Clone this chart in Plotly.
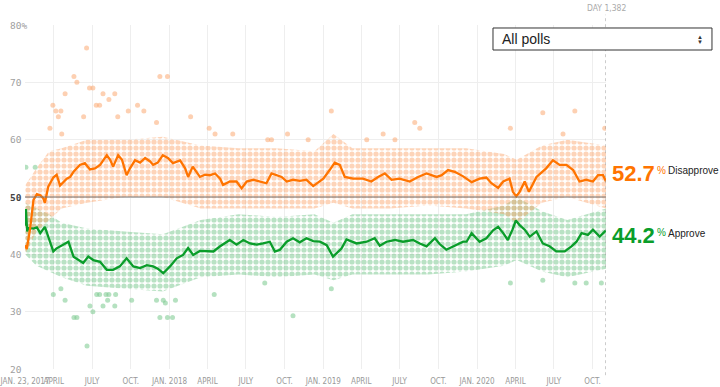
import pandas as pd
import plotly.graph_objects as go

# ---------------- data (day number since Jan 20, 2017) ----------------
disapprove_days = [3, 7, 15, 23, 31, 39, 46, 50, 58, 70, 78, 86, 102, 110, 118, 133, 145, 157, 169, 181,
                   197, 205, 212, 224, 233, 244, 252, 264, 276, 288, 300, 307, 318, 330, 342, 354, 371, 383,
                   390, 401, 418, 430, 442, 454, 466, 473, 489, 505, 517, 529, 545, 560, 576, 588, 600, 612,
                   624, 639, 655, 671, 687, 698, 711, 726, 738, 750, 762, 782, 805, 825, 841, 857, 873, 892,
                   916, 936, 956, 980, 992, 1007, 1023, 1043, 1063, 1082, 1098, 1110, 1126, 1138, 1153, 1161,
                   1169, 1177, 1189, 1199, 1217, 1240, 1256, 1272, 1288, 1304, 1319, 1335, 1351, 1363, 1375, 1382]
disapprove_vals = [41.6, 40.9, 44.5, 49.5, 50.5, 50.3, 49.8, 49.0, 51.8, 53.4, 53.9, 52.0, 53.2, 53.5, 54.4,
                   55.6, 55.9, 54.8, 55.0, 55.6, 57.3, 56.5, 55.3, 57.3, 56.5, 53.8, 55.0, 56.4, 56.0, 56.8,
                   56.2, 55.6, 56.0, 57.3, 56.8, 55.9, 56.4, 55.0, 53.5, 55.3, 53.5, 53.9, 53.8, 54.1, 53.2,
                   52.1, 52.7, 52.7, 51.5, 52.7, 53.0, 52.7, 52.4, 54.1, 53.8, 53.5, 52.7, 53.0, 52.8, 53.0,
                   51.9, 52.5, 53.2, 54.7, 56.0, 55.6, 53.5, 53.2, 53.2, 52.7, 53.5, 54.1, 53.0, 53.2, 52.7,
                   53.5, 54.1, 53.5, 53.8, 54.7, 54.4, 53.6, 52.6, 53.2, 53.4, 52.4, 51.6, 52.7, 53.2, 50.9,
                   50.1, 50.9, 52.7, 50.9, 53.5, 55.0, 56.4, 55.6, 55.6, 54.7, 52.7, 53.0, 52.7, 53.8, 53.8, 52.7]

approve_days = [3, 5, 8, 11, 23, 31, 39, 50, 58, 70, 77, 86, 98, 106, 118, 129, 141, 153, 165, 181, 197,
                212, 228, 244, 260, 276, 292, 307, 318, 331, 347, 363, 378, 390, 402, 418, 432, 450, 466,
                489, 505, 521, 537, 553, 568, 584, 596, 608, 624, 639, 655, 671, 687, 703, 719, 734, 754,
                766, 790, 814, 833, 845, 861, 881, 900, 924, 940, 956, 976, 987, 1003, 1011, 1027, 1043,
                1051, 1063, 1082, 1098, 1114, 1126, 1138, 1149, 1160, 1168, 1177, 1189, 1201, 1217, 1232,
                1248, 1264, 1284, 1300, 1312, 1324, 1339, 1351, 1367, 1382]
approve_vals = [45.0, 47.9, 44.0, 44.6, 44.5, 44.7, 43.7, 44.8, 43.1, 40.5, 41.0, 41.4, 41.8, 42.2, 39.6,
                39.0, 38.5, 39.6, 39.0, 38.7, 37.3, 37.3, 37.9, 39.3, 37.9, 37.6, 38.1, 37.9, 37.5, 36.7,
                37.9, 39.3, 39.9, 41.1, 39.9, 40.6, 40.5, 40.5, 41.4, 42.5, 41.7, 42.5, 41.9, 41.7, 41.9,
                42.2, 40.5, 40.8, 42.2, 42.8, 42.1, 42.8, 42.3, 42.2, 41.6, 39.6, 41.0, 42.6, 41.9, 42.2,
                42.8, 41.5, 42.2, 42.5, 42.2, 42.5, 41.9, 41.4, 42.8, 41.8, 40.8, 41.1, 41.7, 42.2, 42.2,
                43.7, 42.2, 42.8, 44.2, 44.8, 43.7, 42.5, 44.3, 45.9, 45.1, 44.3, 43.1, 44.0, 41.9, 41.4,
                40.5, 40.5, 41.4, 42.2, 43.7, 43.4, 44.3, 43.1, 44.2]

# spread of the bulk of individual polls
band_days = [3, 30, 60, 90, 150, 240, 330, 420, 510, 600, 690, 735, 780, 870, 960, 1050, 1140, 1170,
             1230, 1290, 1382]
disapprove_poll_hi = [52, 55, 58, 58.5, 60, 60, 60.5, 59, 58.5, 58.5, 58, 61, 58.5, 58.5, 58.5, 58.5,
                      57.5, 56.5, 59, 60, 59]
disapprove_poll_lo = [40, 44, 46, 48, 49, 50, 50, 48, 48, 48, 48, 49, 48, 48, 48.5, 48, 47, 45.5, 49,
                      50, 48]
approve_poll_hi = [49, 48, 47, 45.5, 44.5, 44, 43.5, 46, 47, 46.5, 47, 45.5, 47, 47, 47, 47, 48.5, 50,
                   47.5, 46, 48]
approve_poll_lo = [40, 38, 37, 36, 34.5, 34, 33.5, 36, 36.5, 36, 36.5, 35.5, 36.5, 36.5, 36.5, 37, 38,
                   39, 37, 36, 37.5]

# individual outlying polls
disapprove_out_days = [149, 119, 126, 156, 164, 98, 188, 216, 202, 69, 172, 180, 270, 76, 88, 248, 285,
                       82, 142, 223, 396, 315, 323, 341, 62, 90, 454, 440, 496, 626, 579, 588, 675, 730,
                       928, 940, 853, 881, 814, 1232, 1308, 1155, 1280, 1379]
disapprove_out_vals = [76, 71, 70, 69, 69, 68, 68, 68, 67, 66, 66, 66, 66, 65, 65, 65, 65, 64, 64, 64, 64,
                       63, 71, 71, 62, 61, 61, 62, 61, 61, 60, 60, 60, 65, 63, 62, 61, 60, 60, 64.7, 65,
                       62, 61, 62]
approve_out_days = [70, 88, 98, 119, 126, 150, 157, 164, 173, 180, 188, 195, 199, 202, 216, 218, 256, 315,
                    323, 331, 336, 341, 353, 360, 452, 639, 730, 572, 1155, 1232, 1308, 1335, 1371, 5, 27]
approve_out_vals = [33, 34, 32, 29, 29, 24, 31, 30, 33, 33, 31, 33, 32, 33, 31, 33, 32, 32, 29, 32, 31.5,
                    29, 29, 32, 33, 29.3, 34, 35, 35, 35.5, 35, 35, 35, 55.2, 55.2]

y_tick_vals = [20, 30, 40, 50, 60, 70, 80]
y_tick_text = ["20", "30", "40", "50", "60", "70", "80%"]
x_tick_vals = ["2017-01-23", "2017-04-01", "2017-07-01", "2017-10-01", "2018-01-01", "2018-04-01",
               "2018-07-01", "2018-10-01", "2019-01-01", "2019-04-01", "2019-07-01", "2019-10-01",
               "2020-01-01", "2020-04-01", "2020-07-01", "2020-10-01"]
x_tick_text = ["JAN. 23, 2017", "APRIL", "JULY", "OCT.", "JAN. 2018", "APRIL", "JULY", "OCT.",
               "JAN. 2019", "APRIL", "JULY", "OCT.", "JAN. 2020", "APRIL", "JULY", "OCT."]

# ---------------- helpers ----------------
BASE = pd.Timestamp("2017-01-20")


def to_dates(days):
    return list(BASE + pd.to_timedelta(days, unit="D"))


ORANGE = "#ff7400"
GREEN = "#0a9d2a"
NARROW = "Liberation Sans Narrow, DejaVu Sans Condensed, Arial Narrow, sans-serif"
SANS = "Liberation Sans, Arial, Helvetica, sans-serif"
MONO = "DejaVu Sans Mono, monospace"

fig = go.Figure()

bd = to_dates(band_days)
fig.add_trace(go.Scatter(x=bd + bd[::-1], y=approve_poll_hi + approve_poll_lo[::-1], fill="toself",
                         mode="lines", line=dict(width=0), fillcolor="rgba(100,190,120,0.38)",
                         fillpattern=dict(shape=".", fgcolor="rgba(100,190,125,0.9)",
                                          bgcolor="rgba(0,0,0,0)", size=6, solidity=0.6),
                         hoverinfo="skip", showlegend=False))
fig.add_trace(go.Scatter(x=bd + bd[::-1], y=disapprove_poll_hi + disapprove_poll_lo[::-1], fill="toself",
                         mode="lines", line=dict(width=0), fillcolor="rgba(252,160,95,0.38)",
                         fillpattern=dict(shape=".", fgcolor="rgba(252,160,100,0.9)",
                                          bgcolor="rgba(0,0,0,0)", size=6, solidity=0.6),
                         hoverinfo="skip", showlegend=False))
fig.add_trace(go.Scatter(x=to_dates(approve_out_days), y=approve_out_vals, mode="markers",
                         marker=dict(size=5, color="rgba(120,200,140,0.55)"), showlegend=False))
fig.add_trace(go.Scatter(x=to_dates(disapprove_out_days), y=disapprove_out_vals, mode="markers",
                         marker=dict(size=5, color="rgba(252,170,115,0.55)"), showlegend=False))
fig.add_trace(go.Scatter(x=to_dates(approve_days), y=approve_vals, mode="lines",
                         line=dict(color=GREEN, width=2.3), showlegend=False))
fig.add_trace(go.Scatter(x=to_dates(disapprove_days), y=disapprove_vals, mode="lines",
                         line=dict(color=ORANGE, width=2.3), showlegend=False))

end_date = to_dates([disapprove_days[-1]])[0]
start_date = pd.Timestamp("2017-01-22 20:00")

fig.update_layout(
    width=720, height=387, autosize=False,
    margin=dict(l=25, r=114, t=25, b=18),
    paper_bgcolor="white", plot_bgcolor="white",
    xaxis=dict(range=[start_date, end_date], tickvals=x_tick_vals, ticktext=x_tick_text,
               tickangle=0, showgrid=True, gridcolor="#eeeeee", gridwidth=1, zeroline=False,
               showline=False, ticks="", ticklabelstandoff=6, ticklabeloverflow="allow",
               automargin=False,
               tickfont=dict(family=NARROW, size=8, color="#999999")),
    yaxis=dict(range=[20, 80], tickvals=y_tick_vals, showticklabels=False, showgrid=True,
               gridcolor="#eeeeee", gridwidth=1, zeroline=False, showline=False, automargin=False),
    shapes=[
        dict(type="line", xref="paper", yref="y", x0=0, x1=1, y0=50, y1=50,
             line=dict(color="#777777", width=1), layer="above"),
        dict(type="line", xref="x", yref="paper", x0=end_date, x1=end_date, y0=-0.018, y1=1.03,
             line=dict(color="#999999", width=1, dash="dot"), layer="above"),
        dict(type="rect", xref="paper", yref="paper", x0=0.8055, x1=1.1824, y0=0.9273, y1=0.9913,
             fillcolor="white", line=dict(color="#333333", width=1), layer="above"),
    ],
)

ann = []
for v, t in zip(y_tick_vals, y_tick_text):
    ann.append(dict(xref="paper", yref="y", x=-0.0293, y=v, text=("<b>%s</b>" % t) if v == 50 else t,
                    showarrow=False, xanchor="left", yanchor="middle",
                    font=dict(family=MONO, size=9.5, color="#444444" if v == 50 else "#a0a0a0")))

ann.append(dict(xref="x", yref="paper", x=end_date, y=1.049, text="DAY 1,382", showarrow=False,
                xanchor="center", yanchor="middle", font=dict(family=NARROW, size=8.5, color="#aaaaaa")))

# final value labels
ann += [
    dict(xref="paper", yref="paper", x=1.0069, y=0.568, text="<b>%.1f</b>" % disapprove_vals[-1],
         showarrow=False, xanchor="left", yanchor="middle", font=dict(family=SANS, size=22, color=ORANGE)),
    dict(xref="paper", yref="paper", x=1.0843, y=0.578, text="%", showarrow=False, xanchor="left",
         yanchor="middle", font=dict(family=SANS, size=10, color=ORANGE)),
    dict(xref="paper", yref="paper", x=1.103, y=0.576, text="Disapprove", showarrow=False, xanchor="left",
         yanchor="middle", font=dict(family=SANS, size=10, color="#222222")),
    dict(xref="paper", yref="paper", x=1.0069, y=0.388, text="<b>%.1f</b>" % approve_vals[-1],
         showarrow=False, xanchor="left", yanchor="middle", font=dict(family=SANS, size=22, color=GREEN)),
    dict(xref="paper", yref="paper", x=1.0843, y=0.396, text="%", showarrow=False, xanchor="left",
         yanchor="middle", font=dict(family=SANS, size=10, color=GREEN)),
    dict(xref="paper", yref="paper", x=1.103, y=0.3935, text="Approve", showarrow=False, xanchor="left",
         yanchor="middle", font=dict(family=SANS, size=10, color="#222222")),
]

# dropdown text
ann += [
    dict(xref="paper", yref="paper", x=0.8176, y=0.9593, text="All polls", showarrow=False,
         xanchor="left", yanchor="middle", font=dict(family=SANS, size=14, color="#222222")),
    dict(xref="paper", yref="paper", x=1.1618, y=0.9665, text="▲", showarrow=False,
         xanchor="center", yanchor="middle", font=dict(family=SANS, size=6, color="#333333")),
    dict(xref="paper", yref="paper", x=1.1618, y=0.9515, text="▼", showarrow=False,
         xanchor="center", yanchor="middle", font=dict(family=SANS, size=6, color="#333333")),
]
fig.update_layout(annotations=ann)

# remove the browser's default 8px body margin so the 720x387 figure fills the window exactly
fig.write_html("out.html", config={"displayModeBar": False},
               post_script="document.body.style.margin='0';document.body.style.overflow='hidden';")
